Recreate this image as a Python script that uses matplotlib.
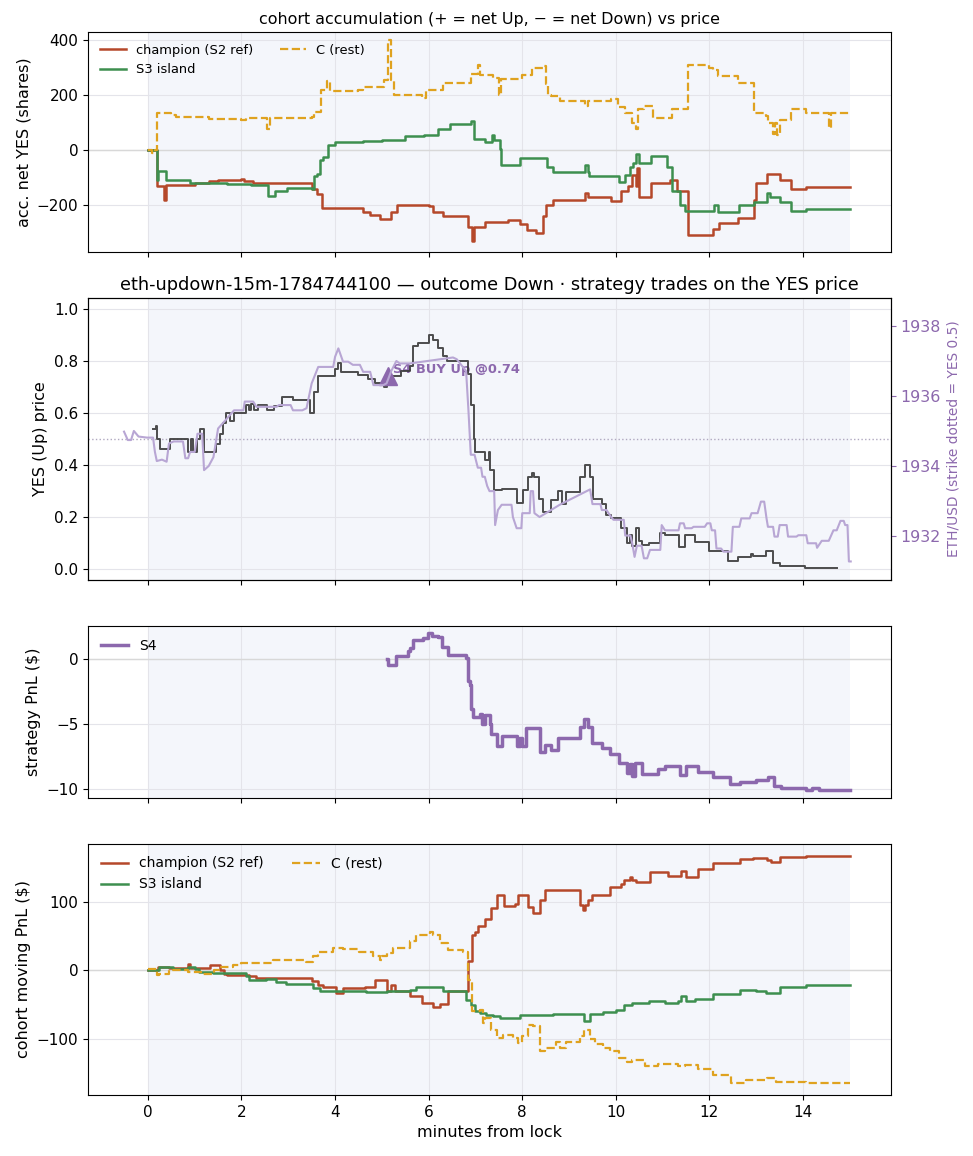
import matplotlib
matplotlib.use("Agg")
import matplotlib.pyplot as plt
import numpy as np

# ---------------- data ----------------
# panel 1: accumulated net YES shares (step, value holds from t)
champ_acc = [(0,0),(0.19,-130),(0.34,-180),(0.38,-125),(1.0,-120),(1.3,-112),(1.5,-110),(2.0,-105),(2.05,-112),
             (2.25,-118),(3.5,-140),(3.62,-160),(3.72,-210),(4.6,-225),(4.75,-235),(4.95,-250),(5.2,-225),
             (5.33,-200),(6.0,-202),(6.1,-225),(6.3,-240),(6.85,-280),(6.93,-330),(6.97,-280),(7.2,-260),
             (7.4,-262),(7.7,-255),(7.95,-270),(8.1,-290),(8.3,-300),(8.45,-240),(8.5,-200),(8.66,-180),
             (9.35,-155),(9.4,-172),(9.9,-185),(10.1,-150),(10.25,-130),(10.35,-90),(10.42,-130),(10.45,-65),
             (10.5,-170),(10.75,-120),(11.15,-108),(11.3,-150),(11.55,-310),(12.08,-285),(12.2,-265),
             (12.6,-245),(12.95,-180),(13.0,-120),(13.22,-88),(13.5,-107),(13.75,-142),(14.07,-135),(15.0,-135)]
s3_acc = [(0,0),(0.19,-110),(0.22,-75),(0.38,-108),(0.9,-118),(1.7,-122),(2.2,-125),(2.57,-168),(2.72,-150),
          (2.98,-137),(3.5,-140),(3.55,-95),(3.62,-85),(3.68,-35),(3.75,-25),(3.85,20),(4.0,28),(4.6,32),
          (5.0,37),(5.5,50),(5.9,55),(6.2,75),(6.45,95),(6.9,105),(6.97,40),(7.2,30),(7.35,55),(7.4,35),
          (7.52,5),(7.55,-55),(7.95,-27),(8.52,-60),(8.65,-78),(9.35,-55),(9.4,-78),(9.42,-93),(10.07,-114),
          (10.2,-90),(10.3,-60),(10.37,-47),(10.44,-15),(10.5,-47),(10.76,-20),(11.1,-60),(11.2,-150),
          (11.37,-200),(11.47,-220),(12.1,-200),(12.18,-225),(12.63,-200),(12.95,-190),(13.22,-155),
          (13.3,-170),(13.5,-190),(13.75,-220),(14.07,-215),(15.0,-215)]
rest_acc = [(0,0),(0.08,-10),(0.15,0),(0.19,135),(0.5,128),(0.6,122),(1.3,112),(2.0,110),(2.1,118),(2.55,75),
            (2.6,118),(3.5,120),(3.56,140),(3.7,217),(3.83,250),(3.9,215),(4.5,220),(4.6,230),(5.05,253),
            (5.14,400),(5.2,253),(5.25,201),(5.8,200),(5.85,190),(5.95,220),(6.3,245),(6.9,277),(7.05,310),
            (7.1,274),(7.37,262),(7.5,202),(7.55,258),(8.0,274),(8.2,300),(8.45,305),(8.5,240),(8.55,202),
            (8.62,196),(8.8,180),(9.35,160),(9.4,180),(9.9,185),(10.05,158),(10.2,135),(10.35,100),(10.42,75),
            (10.47,150),(10.6,160),(10.8,116),(11.2,150),(11.55,310),(12.0,300),(12.08,292),(12.18,270),
            (12.6,245),(12.95,135),(13.2,123),(13.25,100),(13.35,60),(13.4,100),(13.45,55),(13.5,110),
            (13.75,150),(14.07,135),(14.55,80),(14.6,135),(15.0,135)]

# panel 2: YES (Up) price (step)
yes_price = [(0.1,0.537),(0.17,0.55),(0.2,0.5),(0.26,0.46),(0.48,0.5),(0.85,0.45),(0.92,0.5),(0.97,0.45),
             (1.05,0.5),(1.12,0.54),(1.2,0.45),(1.45,0.48),(1.55,0.52),(1.6,0.56),(1.67,0.6),(1.75,0.57),
             (1.85,0.6),(2.1,0.63),(2.15,0.61),(2.2,0.635),(2.27,0.61),(2.35,0.63),(2.55,0.61),(2.7,0.625),
             (2.86,0.66),(3.11,0.65),(3.46,0.6),(3.55,0.68),(3.64,0.742),(4.0,0.77),(4.07,0.79),(4.12,0.758),
             (4.5,0.745),(4.7,0.73),(4.85,0.715),(5.05,0.70),(5.12,0.74),(5.4,0.76),(5.6,0.78),(5.67,0.857),
             (5.78,0.87),(6.0,0.90),(6.1,0.88),(6.2,0.85),(6.3,0.82),(6.4,0.80),(6.85,0.75),(6.9,0.63),
             (6.96,0.5),(7.0,0.45),(7.2,0.42),(7.28,0.45),(7.3,0.38),(7.4,0.304),(7.56,0.31),(7.88,0.253),
             (8.02,0.304),(8.13,0.355),(8.2,0.37),(8.25,0.355),(8.35,0.27),(8.45,0.22),(8.62,0.265),
             (8.77,0.30),(8.84,0.25),(8.94,0.298),(9.23,0.355),(9.34,0.40),(9.45,0.355),(9.52,0.27),
             (9.7,0.25),(9.8,0.208),(9.9,0.195),(10.1,0.157),(10.23,0.10),(10.3,0.13),(10.35,0.09),
             (10.42,0.16),(10.5,0.11),(10.55,0.093),(10.7,0.10),(10.95,0.138),(11.05,0.13),(11.34,0.087),
             (11.48,0.13),(11.7,0.106),(12.0,0.07),(12.4,0.03),(12.6,0.046),(12.88,0.058),(12.93,0.052),
             (13.2,0.07),(13.35,0.023),(13.5,0.013),(14.05,0.004),(14.72,0.004)]

# panel 2 right axis: ETH/USD
eth_usd = [(-0.51,1934.98),(-0.43,1934.74),(-0.36,1934.74),(-0.3,1935.0),(-0.2,1934.84),(-0.02,1934.81),
           (0.11,1934.81),(0.15,1934.40),(0.19,1934.14),(0.3,1934.18),(0.4,1934.12),(0.45,1934.64),
           (0.55,1934.70),(0.75,1934.70),(0.8,1934.22),(0.86,1934.22),(0.9,1934.40),(1.0,1934.40),
           (1.06,1934.92),(1.16,1934.92),(1.2,1933.88),(1.3,1934.0),(1.4,1934.25),(1.5,1935.07),
           (1.7,1935.37),(1.84,1935.59),(2.04,1935.59),(2.07,1935.84),(2.25,1935.84),(2.32,1935.69),
           (2.75,1935.69),(2.8,1935.74),(3.05,1935.74),(3.1,1935.59),(3.3,1935.59),(3.39,1935.65),
           (3.5,1936.36),(3.64,1936.83),(3.96,1936.83),(4.0,1937.12),(4.07,1937.36),(4.17,1936.98),
           (4.28,1936.98),(4.38,1936.89),(4.53,1936.89),(4.6,1936.69),(4.75,1936.69),(4.82,1936.31),
           (5.03,1936.31),(5.1,1936.36),(5.2,1936.71),(5.31,1937.0),(5.38,1936.93),(5.6,1936.93),
           (6.52,1937.1),(6.6,1937.05),(6.8,1936.71),(6.85,1935.59),(6.9,1934.32),(6.98,1934.32),
           (7.05,1933.95),(7.12,1933.95),(7.15,1933.69),(7.2,1933.69),(7.25,1933.43),(7.3,1933.28),
           (7.4,1933.28),(7.42,1932.31),(7.48,1932.74),(7.56,1932.89),(7.77,1932.89),(7.8,1932.54),
           (7.88,1932.22),(7.98,1932.22),(8.0,1932.65),(8.16,1932.65),(8.18,1933.28),(8.23,1933.28),
           (8.26,1932.65),(8.37,1932.54),(8.8,1932.89),(9.45,1933.33),(9.5,1932.91),(9.67,1932.91),
           (9.7,1932.74),(9.8,1932.74),(9.9,1932.54),(9.95,1932.46),(10.17,1932.46),(10.2,1932.01),
           (10.31,1932.01),(10.35,1931.79),(10.4,1931.40),(10.45,1931.72),(10.55,1931.72),(10.6,1931.36),
           (10.67,1931.36),(10.73,1931.60),(10.95,1931.60),(10.98,1932.31),(11.05,1932.16),(11.34,1932.16),
           (11.37,1932.36),(11.45,1932.36),(11.48,1932.22),(11.62,1932.22),(11.66,1932.26),(11.9,1932.26),
           (11.95,1932.36),(12.02,1932.36),(12.05,1932.16),(12.12,1932.16),(12.15,1931.64),(12.25,1931.64),
           (12.3,1931.55),(12.47,1931.55),(12.5,1932.26),(12.64,1932.26),(12.68,1932.50),(12.86,1932.50),
           (12.9,1932.65),(13.03,1932.65),(13.1,1932.98),(13.17,1932.98),(13.22,1932.5),(13.25,1932.26),
           (13.36,1932.26),(13.39,1931.98),(13.46,1931.98),(13.5,1932.31),(13.65,1932.31),(13.68,1931.98),
           (13.86,1931.98),(13.9,1932.02),(14.07,1932.02),(14.1,1931.79),(14.28,1931.79),(14.3,1931.66),
           (14.4,1931.86),(14.55,1931.86),(14.65,1932.16),(14.72,1932.16),(14.8,1932.43),(14.87,1932.43),
           (14.9,1932.31),(14.95,1932.31),(14.98,1931.27),(15.02,1931.27)]

trade_t = [5.13]
trade_px = [0.74]
trade_label = ["S4 BUY Up @0.74"]

# panel 3: S4 strategy PnL (step)
s4_pnl = [(5.1,0),(5.13,-0.45),(5.3,0.26),(5.55,0.6),(5.6,0.9),(5.67,1.49),(5.88,1.6),(5.98,2.0),(6.08,1.8),
          (6.2,1.7),(6.28,0.97),(6.42,0.33),(6.8,0.1),(6.85,-1.72),(6.89,-2.0),(6.9,-3.85),(6.95,-4.5),
          (7.1,-4.2),(7.15,-5.0),(7.2,-4.3),(7.3,-5.0),(7.34,-5.8),(7.45,-6.7),(7.56,-5.95),(7.88,-6.7),
          (7.95,-6.1),(8.0,-6.7),(8.09,-5.3),(8.37,-7.2),(8.48,-6.6),(8.62,-7.0),(8.77,-6.1),(9.23,-5.2),
          (9.32,-4.65),(9.4,-5.2),(9.48,-6.5),(9.7,-6.85),(9.87,-7.3),(10.07,-8.05),(10.24,-8.8),(10.3,-8.1),
          (10.35,-9.0),(10.4,-8.0),(10.55,-8.9),(10.9,-8.5),(11.05,-8.25),(11.37,-8.95),(11.5,-8.25),
          (11.76,-8.7),(12.08,-9.1),(12.44,-9.65),(12.65,-9.5),(13.0,-9.35),(13.25,-9.1),(13.39,-9.8),
          (13.53,-9.92),(14.07,-10.08),(14.2,-9.97),(14.35,-10.08),(15.0,-10.08)]

# panel 4: cohort moving PnL (step)
champ_pnl = [(0,0),(0.21,5),(0.46,3),(0.85,9),(0.9,3),(1.32,7),(1.55,0),(1.62,-5),(1.68,-7),(2.15,-9),
             (2.32,-10.7),(3.5,-16),(3.64,-21),(3.74,-25),(4.03,-33),(4.17,-26),(4.64,-24),(4.85,-14),
             (5.1,-31),(5.2,-21),(5.28,-30),(5.6,-37),(5.85,-48),(6.1,-54),(6.24,-50),(6.42,-30),(6.85,13),
             (6.92,51),(7.0,56),(7.05,64),(7.2,75),(7.34,90),(7.45,110),(7.62,93),(7.84,97),(7.91,110),
             (8.12,92),(8.23,83),(8.37,102),(8.48,117),(9.23,95),(9.3,88),(9.35,95),(9.4,102),(9.5,110),
             (9.88,122),(10.1,125),(10.17,131),(10.3,136),(10.35,131),(10.42,129),(10.73,143),(11.12,137),
             (11.4,145),(11.5,136),(11.76,147.5),(12.08,156),(12.65,161.6),(12.93,163),(13.22,160),
             (13.32,158),(13.5,164.5),(14.07,166.4),(15.0,166.4)]
s3_pnl = [(0,0),(0.24,5),(0.53,1.5),(0.85,5),(1.0,1.5),(1.1,-2),(1.4,-3.4),(2.1,-9),(2.17,-15),(2.53,-12.6),
          (2.74,-16.5),(2.95,-20.4),(3.52,-26),(3.67,-30),(4.67,-32),(5.1,-31),(5.6,-29),(5.73,-25),(6.3,-30),
          (6.8,-43),(6.9,-50.5),(6.98,-60),(7.1,-62),(7.23,-65),(7.37,-67.4),(7.52,-69),(7.95,-65),
          (8.66,-63.6),(9.33,-74.7),(9.45,-64),(9.73,-61.6),(10.0,-57.7),(10.17,-50.5),(10.34,-48),
          (10.7,-45.6),(11.05,-48),(11.33,-45.6),(11.4,-37),(11.5,-45.6),(11.7,-41.7),(12.08,-34.4),
          (12.65,-29.6),(13.0,-30.5),(13.2,-33.5),(13.5,-23.8),(14.07,-21.3),(14.2,-22.3),(15.0,-22.3)]
rest_pnl = [(0,2),(0.19,-7),(0.24,-5),(0.45,0),(0.85,-3),(1.14,-5),(1.41,0),(1.55,5),(1.82,8),(1.98,11),
            (2.67,15),(3.38,12.6),(3.52,20),(3.63,27),(3.96,33),(4.17,31),(4.52,27),(4.8,20),(4.95,15),
            (5.0,20),(5.1,25),(5.24,32),(5.6,42),(5.73,51.4),(6.02,56),(6.1,51),(6.24,39),(6.42,29.6),
            (6.74,27),(6.85,-14),(6.92,-60),(7.09,-57.7),(7.17,-77),(7.2,-70),(7.34,-87),(7.45,-99),
            (7.59,-94),(7.8,-99),(7.9,-106),(8.0,-96),(8.12,-79.6),(8.23,-82),(8.37,-118),(8.48,-113.5),
            (8.73,-104),(8.8,-113.5),(8.94,-104),(9.23,-96.5),(9.33,-87),(9.45,-101),(9.55,-107),
            (9.73,-113.5),(9.87,-118),(10.07,-128),(10.24,-134),(10.34,-130.5),(10.62,-139),(10.9,-137),
            (11.33,-140),(11.48,-138),(11.76,-144),(12.08,-153),(12.47,-164.5),(12.79,-159.6),(13.22,-157),
            (13.43,-162.5),(14.07,-164),(15.0,-164)]

# ---------------- style ----------------
C_CHAMP = "#b5482a"
C_S3 = "#3d8f4f"
C_REST = "#dfa21f"
C_S4 = "#8c68ad"
C_ETH = "#b8a6d4"
C_YES = "#3a3a3a"
SHADE = "#f4f6fb"
TICK = 11
LAB = 11.5

plt.rcParams['font.family'] = ['DejaVu Sans']

W, H = 973, 1156
fig = plt.figure(figsize=(W / 100, H / 100), dpi=100)

def rect(top, bottom, left=88, right=891):
    return [left / W, 1 - bottom / H, (right - left) / W, (bottom - top) / H]

ax1 = fig.add_axes(rect(32, 252))
ax2 = fig.add_axes(rect(298, 580), sharex=ax1)
ax3 = fig.add_axes(rect(626, 798), sharex=ax1)
ax4 = fig.add_axes(rect(844, 1095), sharex=ax1)

def unz(s):
    a = np.array(s, dtype=float)
    return a[:, 0], a[:, 1]

for ax in (ax1, ax2, ax3, ax4):
    ax.axvspan(0, 15, color=SHADE, zorder=0, lw=0)
    ax.grid(True, color="#e4e4ea", lw=0.8, zorder=0.5)
    ax.set_axisbelow(True)
    ax.tick_params(labelsize=TICK)

# panel 1
ax1.axhline(0, color="#d8d8d8", lw=1, zorder=1)
t, v = unz(champ_acc)
ax1.step(t, v, where="post", color=C_CHAMP, lw=1.8, label="champion (S2 ref)")
t, v = unz(s3_acc)
ax1.step(t, v, where="post", color=C_S3, lw=1.8, label="S3 island")
t, v = unz(rest_acc)
ax1.step(t, v, where="post", color=C_REST, lw=1.6, ls="--", label="C (rest)")
ax1.set_ylim(-370, 429)
ax1.set_yticks([-200, 0, 200, 400])
ax1.set_ylabel("acc. net YES (shares)", fontsize=LAB)
ax1.set_title("cohort accumulation (+ = net Up, \u2212 = net Down) vs price", fontsize=11.4)
ax1.legend(ncol=2, fontsize=9.4, frameon=False, loc="upper left")

# panel 2
ax2.axhline(0.5, color="#b0a8c0", lw=1, ls=":", zorder=1)
t, v = unz(yes_price)
ax2.step(t, v, where="post", color=C_YES, lw=1.4, alpha=0.9, zorder=3)
ax2.plot(trade_t, trade_px, marker="^", ms=13, color=C_S4, ls="none", zorder=4)
ax2.text(trade_t[0] + 0.1, trade_px[0] + 0.028, trade_label[0], color=C_S4, fontsize=9.4,
         fontweight="bold", va="center", ha="left", zorder=1)
ax2.set_ylim(-0.041, 1.041)
ax2.set_yticks([0.0, 0.2, 0.4, 0.6, 0.8, 1.0])
ax2.set_ylabel("YES (Up) price", fontsize=LAB)
ax2.set_title("eth-updown-15m-1784744100 \u2014 outcome Down \u00b7 strategy trades on the YES price",
              fontsize=12.8)
ax2b = ax2.twinx()
t, v = unz(eth_usd)
ax2b.plot(t, v, color=C_ETH, lw=1.5, zorder=2)
ax2b.set_ylim(1930.74, 1938.8)
ax2b.set_yticks([1932, 1934, 1936, 1938])
ax2b.tick_params(axis="y", colors=C_S4, labelsize=11.4)
ax2b.spines["right"].set_color("black")
ax2b.set_ylabel("ETH/USD (strike dotted = YES 0.5)", color=C_S4, fontsize=9.9)

# panel 3
ax3.axhline(0, color="#d8d8d8", lw=1, zorder=1)
t, v = unz(s4_pnl)
ax3.step(t, v, where="post", color=C_S4, lw=2.5, label="S4")
ax3.set_ylim(-10.72, 2.56)
ax3.set_yticks([-10, -5, 0])
ax3.set_ylabel("strategy PnL ($)", fontsize=LAB)
ax3.legend(fontsize=10, frameon=False, loc="upper left")

# panel 4
ax4.axhline(0, color="#d8d8d8", lw=1, zorder=1)
t, v = unz(champ_pnl)
ax4.step(t, v, where="post", color=C_CHAMP, lw=1.8, label="champion (S2 ref)")
t, v = unz(s3_pnl)
ax4.step(t, v, where="post", color=C_S3, lw=1.8, label="S3 island")
t, v = unz(rest_pnl)
ax4.step(t, v, where="post", color=C_REST, lw=1.6, ls="--", label="C (rest)")
ax4.set_ylim(-182, 184)
ax4.set_yticks([-100, 0, 100])
ax4.set_ylabel("cohort moving PnL ($)", fontsize=LAB)
ax4.set_xlabel("minutes from lock", fontsize=LAB)
ax4.legend(ncol=2, fontsize=10, frameon=False, loc="upper left")

ax1.set_xlim(-1.28, 15.88)
ax1.set_xticks([0, 2, 4, 6, 8, 10, 12, 14])
for ax in (ax1, ax2, ax3):
    ax.tick_params(labelbottom=False)

fig.savefig("out.png", dpi=100)
